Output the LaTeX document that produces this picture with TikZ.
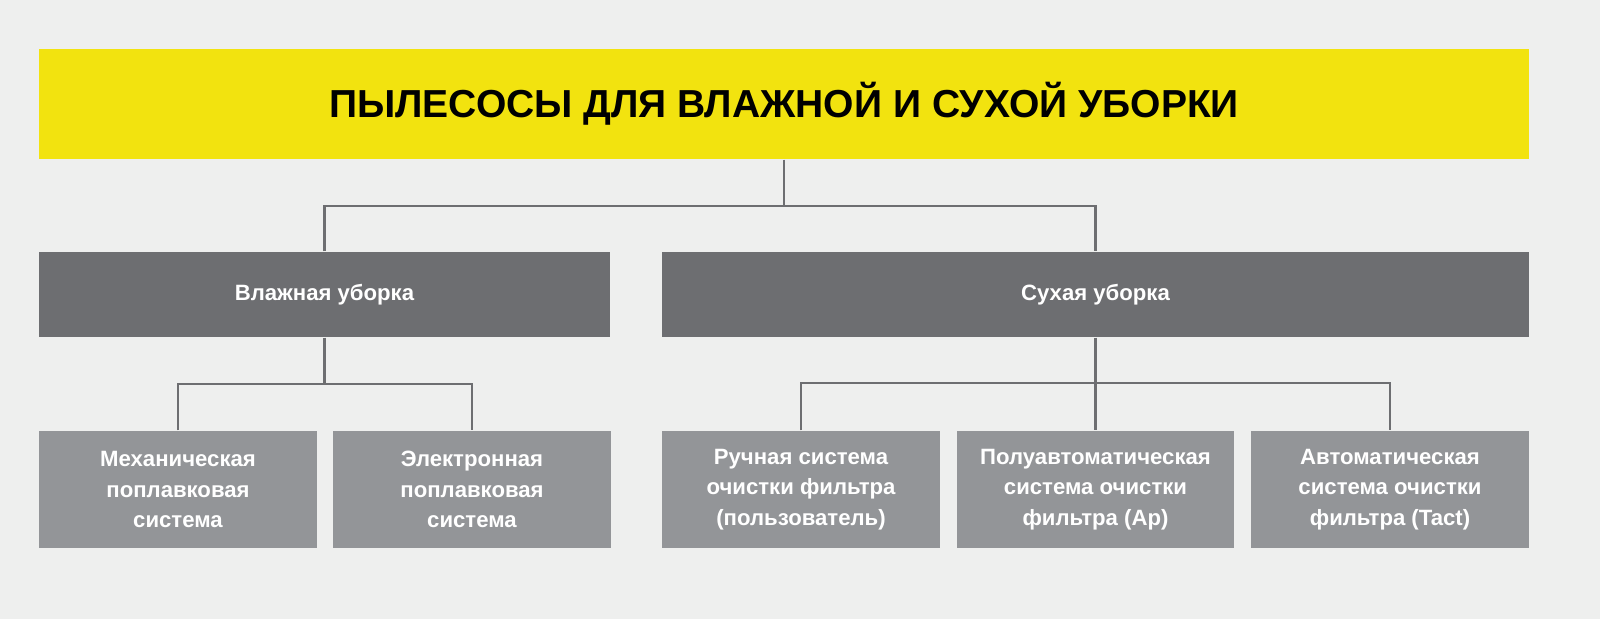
\documentclass[tikz,border=0pt]{standalone}
\usepackage{fontspec}
\setmainfont{Liberation Sans}
\definecolor{bg}{HTML}{EEEFEE}
\definecolor{ylw}{HTML}{F2E30F}
\definecolor{dk}{HTML}{6D6E71}
\definecolor{lt}{HTML}{939598}
\begin{document}
\begin{tikzpicture}[x=0.01cm,y=-0.01cm,
  box/.style={draw=none,minimum height=#1*0.01cm,inner sep=0,align=center,text=white,font=\bfseries\fontsize{6.3}{8.6}\selectfont},
  conn/.style={draw=dk,line width=0.6pt}]
\fill[bg] (0,0) rectangle (1600,619);
\node[fill=ylw,minimum width=1490*0.01cm,minimum height=110*0.01cm,inner sep=0,font=\bfseries\fontsize{11.1}{12}\selectfont] (t) at (784,104) {ПЫЛЕСОСЫ ДЛЯ ВЛАЖНОЙ И СУХОЙ УБОРКИ};
\node[box=85,fill=dk,minimum width=571*0.01cm] (w) at (324.5,294.5) {Влажная уборка};
\node[box=85,fill=dk,minimum width=867*0.01cm] (d) at (1095.5,294.5) {Сухая уборка};
\node[box=117,fill=lt,minimum width=278*0.01cm] (a) at (178,489.5) {Механическая\\поплавковая\\система};
\node[box=117,fill=lt,minimum width=278*0.01cm] (b) at (472,489.5) {Электронная\\поплавковая\\система};
\node[box=117,fill=lt,minimum width=278*0.01cm] (c) at (801,489.5) {Ручная система\\очистки фильтра\\(пользователь)};
\node[box=117,fill=lt,minimum width=277*0.01cm] (e) at (1095.5,489.5) {Полуавтоматическая\\система очистки\\фильтра (Ap)};
\node[box=117,fill=lt,minimum width=278*0.01cm] (f) at (1390,489.5) {Автоматическая\\система очистки\\фильтра (Tact)};
\draw[conn] (t.south) -- ++(0,46) coordinate (j1);
\draw[conn] (w.north) |- (j1) -| (d.north);
\draw[conn] (w.south) -- ++(0,46) coordinate (j2);
\draw[conn] (a.north) |- (j2) -| (b.north);
\draw[conn] (d.south) -- (e.north);
\coordinate (j3) at (1095.5,383);
\draw[conn] (c.north) |- (j3) -| (f.north);
\end{tikzpicture}
\end{document}
